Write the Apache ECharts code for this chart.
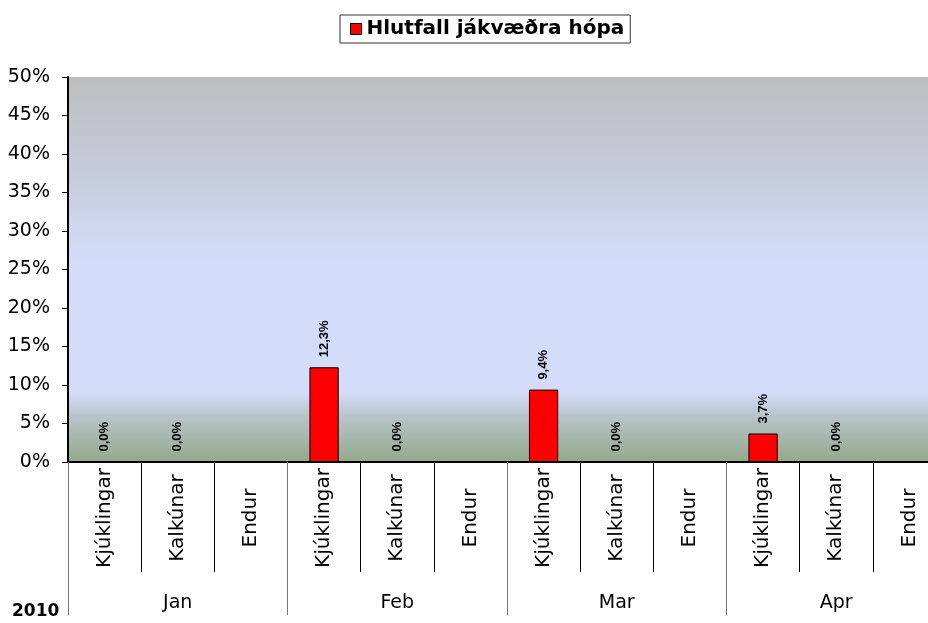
<!DOCTYPE html>
<html>
<head>
<meta charset="utf-8">
<script src="https://cdn.jsdelivr.net/npm/echarts@6/dist/echarts.min.js"></script>
<style>html,body{margin:0;padding:0;background:#fff;}#c{width:928px;height:623px;}</style>
</head>
<body>
<div id="c"></div>
<script>
var categories = ['Kjúklingar','Kalkúnar','Endur','Kjúklingar','Kalkúnar','Endur','Kjúklingar','Kalkúnar','Endur','Kjúklingar','Kalkúnar','Endur'];
var months = ['Jan','Feb','Mar','Apr'];
var values = [0.0, 0.0, null, 12.3, 0.0, null, 9.4, 0.0, null, 3.7, 0.0, null];
var seriesName = 'Hlutfall jákvæðra hópa';
var yearLabel = '2010';

var chart = echarts.init(document.getElementById('c'));
var F = 'DejaVu Sans, sans-serif';
var FA = 'Liberation Sans, Arial, sans-serif';
chart.setOption({
  animation: false,
  legend: {
    top: 15, left: 340,
    data: [{ name: seriesName, icon: 'rect' }],
    itemWidth: 11, itemHeight: 11, itemGap: 4,
    borderColor: '#333', borderWidth: 1, padding: [4, 6, 4, 10],
    textStyle: { fontFamily: F, fontSize: 20, fontWeight: 'bold', color: '#000' },
    itemStyle: { borderColor: '#000', borderWidth: 1 }
  },
  grid: {
    left: 68, top: 77, width: 878, bottom: 161,
    outerBoundsMode: 'none',
    show: true, borderWidth: 0,
    backgroundColor: {
      type: 'linear', x: 0, y: 0, x2: 0, y2: 1,
      colorStops: [
        { offset: 0, color: '#bebebe' },
        { offset: 0.25, color: '#c6cbdc' },
        { offset: 0.48, color: '#d3ddfa' },
        { offset: 0.82, color: '#d3ddfa' },
        { offset: 0.88, color: '#b8c4cc' },
        { offset: 1, color: '#93a98a' }
      ]
    }
  },
  xAxis: [{
    type: 'category', data: categories, position: 'bottom',
    axisLine: { lineStyle: { color: '#000', width: 2 } },
    axisTick: { show: true, interval: 0, length: 110, lineStyle: { color: '#000' } },
    axisLabel: { interval: 0, rotate: 90, align: 'center', verticalAlign: 'middle', margin: 56, fontFamily: F, fontSize: 20, color: '#000' }
  }, {
    type: 'category', data: months, position: 'bottom',
    axisLine: { show: false },
    axisTick: { show: true, interval: 0, length: 153, lineStyle: { color: '#777' } },
    axisLabel: { interval: 0, margin: 132, fontFamily: F, fontSize: 19, color: '#000' }
  }],
  yAxis: {
    type: 'value', min: 0, max: 50, interval: 5,
    axisLine: { show: true, lineStyle: { color: '#000', width: 2 } },
    axisTick: { show: true, length: 6, lineStyle: { color: '#000' } },
    splitLine: { show: false },
    axisLabel: { formatter: '{value}%', margin: 18, fontFamily: F, fontSize: 19, color: '#000' }
  },
  series: [{
    name: seriesName, type: 'bar', xAxisIndex: 0,
    data: values, barWidth: '40%',
    itemStyle: { color: '#ff0000', borderColor: '#000', borderWidth: 1 },
    label: {
      show: true, position: 'top', rotate: 90, distance: 10,
      align: 'left', verticalAlign: 'middle',
      fontFamily: FA, fontSize: 13, fontWeight: 'bold', color: '#000',
      formatter: function (p) { return p.value == null ? '' : p.value.toFixed(1).replace('.', ',') + '%'; }
    }
  }],
  graphic: [{
    type: 'text', left: 12, top: 603,
    style: { text: yearLabel, fontFamily: F, fontSize: 17, fontWeight: 'bold', fill: '#000' }
  }]
});
</script>
</body>
</html>
